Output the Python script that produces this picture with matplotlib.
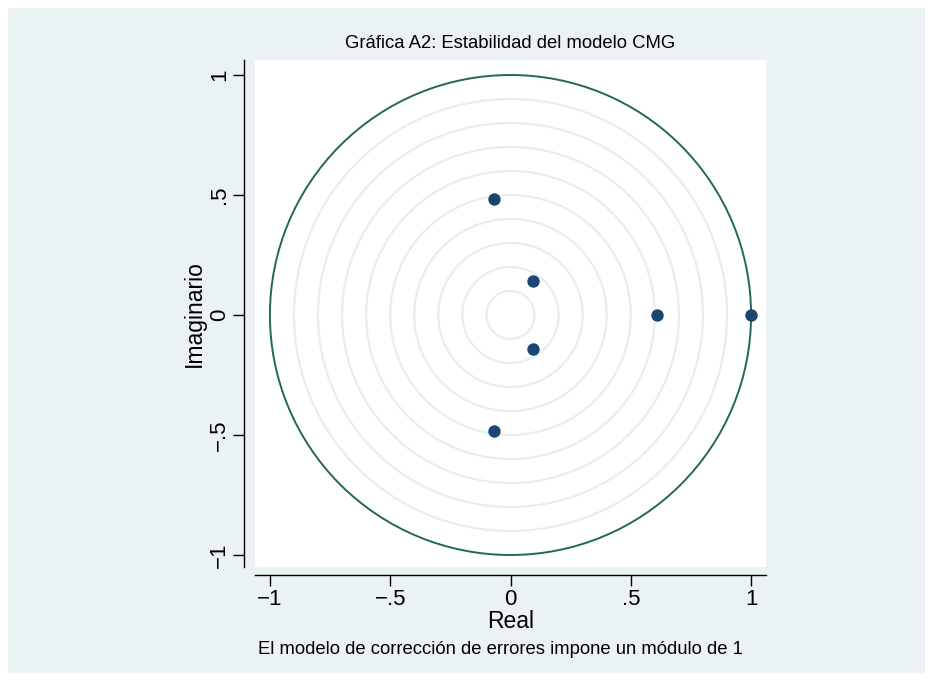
import numpy as np
import matplotlib.pyplot as plt
from matplotlib.patches import Rectangle, Circle

plt.rcParams['font.family'] = ['Liberation Sans', 'DejaVu Sans']

# eigenvalues of the companion matrix
real_part = [-0.069, -0.069, 0.094, 0.094, 0.609, 1.0]
imag_part = [0.483, -0.483, 0.142, -0.142, 0.0, 0.0]

grid_radii = [0.1, 0.2, 0.3, 0.4, 0.5, 0.6, 0.7, 0.8, 0.9]
tick_vals = [-1, -0.5, 0, 0.5, 1]
tick_labels = ['\u22121', '\u2212.5', '0', '.5', '1']

fig = plt.figure(figsize=(9.33, 6.81), dpi=100, facecolor='white')
fig.patches.append(Rectangle((8 / 933, 8 / 681), 917 / 933, 665 / 681,
                             transform=fig.transFigure, facecolor='#EAF2F3',
                             edgecolor='none', zorder=-10))

ax = fig.add_axes([255 / 933, (681 - 567) / 681, 511 / 933, 507 / 681])
ax.set_facecolor('white')
ax.set_xlim(-1.062, 1.062)
ax.set_ylim(-1.05, 1.0625)

for r in grid_radii:
    ax.add_patch(Circle((0, 0), r, fill=False, edgecolor='#E6EEF0', lw=1.6, zorder=1))
ax.add_patch(Circle((0, 0), 1.0, fill=False, edgecolor='#24665E', lw=1.4, zorder=2))

ax.scatter(real_part, imag_part, s=80, color='#1A476F', zorder=3, linewidths=0)

for side in ['top', 'right']:
    ax.spines[side].set_visible(False)
ax.spines['left'].set_position(('outward', 8))
ax.spines['bottom'].set_position(('outward', 6))
ax.spines['left'].set_linewidth(1.0)
ax.spines['bottom'].set_linewidth(1.0)

ax.set_xticks(tick_vals)
ax.set_xticklabels(tick_labels, fontsize=16)
ax.set_yticks(tick_vals)
ax.set_yticklabels(tick_labels, fontsize=16, rotation=90, va='center')
ax.tick_params(direction='out', length=8, width=1.0, pad=2)

ax.set_xlabel('Real', fontsize=16.5, labelpad=0)
ax.set_ylabel('Imaginario', fontsize=16.5, labelpad=2)

fig.text(510 / 933, 1 - 44 / 681, 'Gráfica A2: Estabilidad del modelo CMG',
         ha='center', va='center', fontsize=13.3)
fig.text(500 / 933, 1 - 649 / 681,
         'El modelo de corrección de errores impone un módulo de 1',
         ha='center', va='center', fontsize=13.3)

fig.savefig('out.png', dpi=100, facecolor='white')
